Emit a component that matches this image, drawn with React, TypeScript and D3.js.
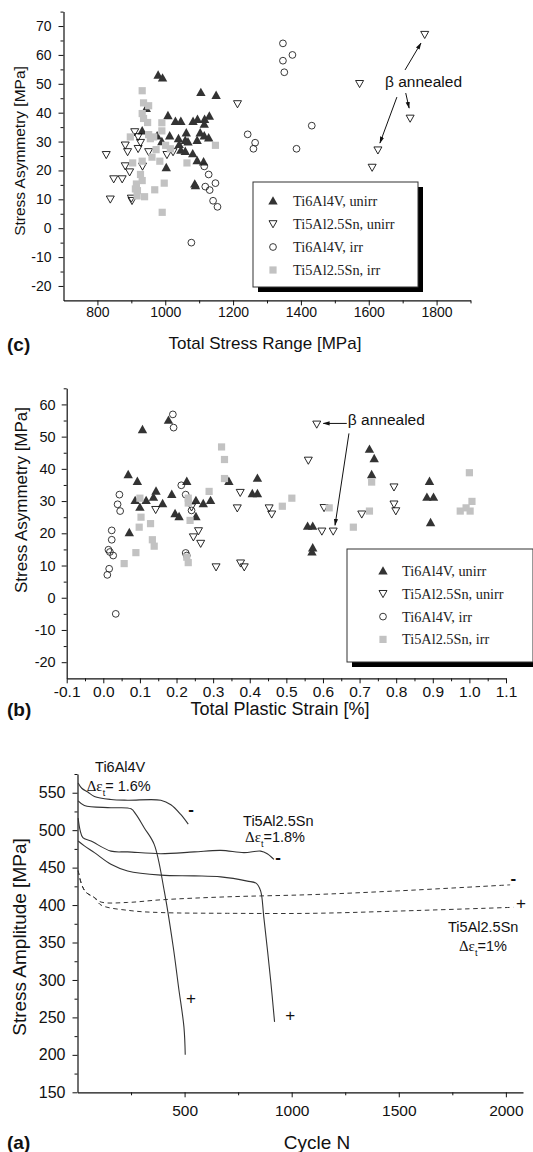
import React, { useEffect, useRef } from "react";
import * as d3 from "d3";

type Pt = [number, number];

const SANS = "'Liberation Sans', Arial, Helvetica, sans-serif";
const SERIF = "'Liberation Serif', 'Times New Roman', serif";
const INK = "#111";

// ---------- (c) total stress range [MPa] vs stress asymmetry [MPa]
const rangeTi64Unirr: Pt[] = [
  [979, 53], [992, 52], [1105, 47], [1150, 46], [944, 41.5], [1008, 39], [1030, 37], [1046, 37],
  [1082, 37], [1095, 37.7], [1116, 37.7], [1130, 38.8], [1115, 36], [932, 33.7], [976, 32], [1013, 32],
  [1062, 33], [1103, 33], [1115, 32], [1128, 31.3], [1039, 31], [1059, 30.4], [990, 30], [1041, 29],
  [1067, 29.9], [1094, 30.4], [1046, 27], [1059, 26.6], [1081, 25.8], [1094, 23.4], [1113, 23],
  [1003, 21], [1087, 15.3], [1089, 14.7],
];
const rangeTi5Unirr: Pt[] = [
  [826, 25.4], [838, 10], [848, 17], [873, 17], [882, 21.5], [895, 19.4], [882, 28.7], [889, 26.4],
  [920, 27.5], [910, 33.3], [920, 31.6], [927, 29.6], [900, 10.3], [902, 9.5], [933, 21.4], [951, 26.4],
  [1005, 25.4], [1023, 26.4], [1213, 43], [1573, 50], [1765, 67], [1722, 38], [1627, 27], [1610, 21],
];
const rangeTi64Irr: Pt[] = [
  [1347, 64], [1375, 60], [1347, 58], [1351, 54], [1432, 35.5], [1387, 27.5], [1243, 32.5],
  [1265, 29.6], [1260, 27.5], [1115, 21.4], [1128, 18.6], [1148, 15.6], [1118, 14.4], [1131, 13.2],
  [1141, 9.5], [1154, 7.4], [1077, -5],
];
const rangeTi5Irr: Pt[] = [
  [932, 47.6], [936, 43.4], [951, 42.4], [932, 39.7], [936, 38], [948, 36.6], [990, 36.5], [990, 33.7],
  [897, 31.6], [951, 32.4], [956, 31], [966, 31.6], [1001, 28.7], [1015, 27.5], [973, 27.2],
  [1148, 28.7], [961, 24.6], [984, 23.2], [932, 23.2], [904, 22.6], [1064, 22.6], [927, 18.6],
  [932, 16.5], [915, 15.3], [918, 13], [912, 13.6], [917, 11.2], [939, 10.9], [969, 13.3], [997, 15.6],
  [991, 5.5],
];

// ---------- (b) total plastic strain [%] vs stress asymmetry [MPa]
const strainTi64Unirr: Pt[] = [
  [0.107, 52.2], [0.178, 55.1], [0.068, 38.2], [0.093, 36.1], [0.228, 36.1], [0.144, 33.1],
  [0.187, 32.1], [0.087, 30.2], [0.117, 30.2], [0.137, 31.2], [0.1, 28.1], [0.162, 29.2],
  [0.196, 26.1], [0.207, 25.2], [0.253, 30.2], [0.273, 29.2], [0.293, 30.2], [0.253, 25.2],
  [0.343, 36.1], [0.421, 37.1], [0.407, 32.3], [0.421, 32.3], [0.071, 20.2], [0.558, 22.2],
  [0.572, 22.2], [0.572, 15.5], [0.57, 14.2], [0.727, 46.1], [0.74, 43.2], [0.733, 38.2],
  [0.891, 36.1], [0.884, 31.2], [0.902, 31.2], [0.894, 23.3],
];
const strainTi5Unirr: Pt[] = [
  [0.143, 27.3], [0.241, 28.1], [0.26, 20.7], [0.246, 18.8], [0.266, 16.8], [0.374, 32.6],
  [0.366, 27.8], [0.453, 27.8], [0.46, 25.9], [0.308, 9.5], [0.375, 10.7], [0.385, 9.5],
  [0.56, 42.6], [0.583, 53.8], [0.597, 20.6], [0.628, 20.6], [0.603, 27.9], [0.706, 25.9],
  [0.794, 34.3], [0.794, 29], [0.799, 26.9],
];
const strainTi64Irr: Pt[] = [
  [0.19, 56.9], [0.192, 52.8], [0.213, 34.9], [0.225, 32], [0.241, 27.1], [0.044, 32], [0.039, 29],
  [0.046, 26.9], [0.023, 20.9], [0.023, 18], [0.014, 14.9], [0.018, 14.2], [0.027, 13.1],
  [0.016, 9], [0.011, 7.1], [0.034, -5], [0.225, 13.9], [0.228, 13.1],
];
const strainTi5Irr: Pt[] = [
  [0.1, 30.9], [0.103, 25], [0.098, 21.9], [0.129, 23], [0.134, 18], [0.139, 16], [0.089, 14],
  [0.057, 10.6], [0.232, 30.9], [0.232, 29.4], [0.237, 24], [0.228, 12.6], [0.232, 10.9],
  [0.289, 33], [0.323, 46.8], [0.331, 42.9], [0.331, 37], [0.489, 28.4], [0.515, 30.9],
  [0.617, 27.9], [0.683, 21.9], [0.727, 26.9], [0.733, 35.9], [1.0, 38.8], [0.975, 26.9],
  [0.991, 27.9], [1.002, 26.9], [1.007, 29.9],
];

// ---------- (a) cycle N vs stress amplitude [MPa]
const cycTi64Top: Pt[] = [
  [3, 563], [20, 556], [48, 551], [79, 545], [156, 541], [234, 540], [389, 540], [436, 534], [482, 521], [517, 508],
];
const cycTi64Bottom: Pt[] = [
  [3, 539], [32, 533], [156, 530], [250, 528.5], [273, 521], [312, 503], [358, 481], [405, 419],
  [447, 344], [472, 290], [497, 237], [503, 200],
];
const cycTi5Top: Pt[] = [
  [3, 516], [12, 500], [25, 490], [63, 485.5], [156, 472], [234, 471], [389, 468.6], [545, 471],
  [669, 473], [777, 470], [855, 472], [886, 468.6], [917, 461],
];
const cycTi5Bottom: Pt[] = [
  [3, 485.5], [32, 479], [79, 470], [156, 454.5], [234, 445.6], [389, 440], [545, 439], [669, 437.6],
  [793, 432], [835, 429], [855, 419], [870, 383.5], [902, 299], [920, 244],
];
const cycTi5LowMinus: Pt[] = [
  [3, 446], [20, 427], [40, 417], [79, 410], [110, 404], [234, 403.5], [389, 407], [700, 411],
  [1100, 414], [1500, 419], [2020, 427],
];
const cycTi5LowPlus: Pt[] = [
  [3, 446], [20, 427], [40, 417], [79, 410], [110, 400], [250, 392.5], [389, 390], [700, 389],
  [1100, 389], [1500, 392], [2035, 397],
];

const legendLabels = ["Ti6Al4V, unirr", "Ti5Al2.5Sn, unirr", "Ti6Al4V, irr", "Ti5Al2.5Sn, irr"];
const rangeTicks = [800, 1000, 1200, 1400, 1600, 1800];
const asymTicksC = [-20, -10, 0, 10, 20, 30, 40, 50, 60, 70];
const strainTicks = [-0.1, 0, 0.1, 0.2, 0.3, 0.4, 0.5, 0.6, 0.7, 0.8, 0.9, 1.0, 1.1];
const asymTicksB = [-20, -10, 0, 10, 20, 30, 40, 50, 60];
const cycleTicks = [500, 1000, 1500, 2000];
const ampTicks = [150, 200, 250, 300, 350, 400, 450, 500, 550];

const MARKS: Record<string, { d: string; fill: string; stroke: string; sw: number }> = {
  up: { d: "M0,-4.8L4.7,3.6L-4.7,3.6Z", fill: "#333", stroke: "none", sw: 0 },
  down: { d: "M-4,-3.3L4,-3.3L0,3.8Z", fill: "none", stroke: "#111", sw: 0.9 },
  circle: { d: d3.symbol(d3.symbolCircle, 36)() as string, fill: "none", stroke: "#222", sw: 0.9 },
  square: { d: "M-3.6,-3.6h7.2v7.2h-7.2Z", fill: "#c2c2c2", stroke: "none", sw: 0 },
};
const markKinds = ["up", "down", "circle", "square"];

function drawAxes(g: any, x: any, y: any, o: any) {
  const bottom = y.range()[0];
  const left = x.range()[0];
  const style = (s: any, fs: number) => {
    s.attr("font-family", SANS).attr("font-size", fs);
    s.selectAll("line").attr("stroke", INK).attr("stroke-width", 1);
    s.selectAll("text").attr("fill", INK);
    s.select(".domain").attr("stroke", INK).attr("stroke-width", 1.2);
  };
  const xm = g.append("g").attr("transform", `translate(0,${bottom})`)
    .call(d3.axisBottom(x).tickValues(o.xMinor).tickSize(3).tickFormat(() => ""));
  xm.select(".domain").remove();
  style(xm, o.tickFs);
  const xa = g.append("g").attr("transform", `translate(0,${bottom})`)
    .call(d3.axisBottom(x).tickValues(o.xTicks).tickSize(5).tickSizeOuter(0).tickPadding(o.xPad).tickFormat(o.xFmt));
  style(xa, o.xTickFs || o.tickFs);

  const ym = g.append("g").attr("transform", `translate(${left},0)`)
    .call(d3.axisLeft(y).tickValues(o.yMinor).tickSize(3).tickFormat(() => ""));
  ym.select(".domain").remove();
  style(ym, o.tickFs);
  const ya = g.append("g").attr("transform", `translate(${left},0)`)
    .call(d3.axisLeft(y).tickValues(o.yTicks).tickSize(5).tickSizeOuter(0).tickPadding(o.yPad).tickFormat((d: any) => String(d)));
  style(ya, o.yTickFs || o.tickFs);

  // titles + panel letter
  g.append("text").attr("x", o.xTitle[0]).attr("y", o.xTitle[1]).attr("dy", "0.35em")
    .attr("text-anchor", "middle").attr("font-family", SANS).attr("font-size", o.xTitleFs).attr("fill", INK).text(o.xLabel);
  g.append("text").attr("transform", `translate(${o.yTitle[0]},${o.yTitle[1]}) rotate(-90)`).attr("dy", "0.35em")
    .attr("text-anchor", "middle").attr("font-family", SANS).attr("font-size", o.yTitleFs).attr("fill", INK).text(o.yLabel);
  g.append("text").attr("x", 7).attr("y", o.letterY).attr("dy", "0.35em").attr("font-family", SANS)
    .attr("font-weight", "bold").attr("font-size", 19).attr("fill", INK).text(o.letter);
}

function arrow(g: any, x: any, y: any, from: Pt, to: Pt) {
  g.append("line").attr("x1", x(from[0])).attr("y1", y(from[1])).attr("x2", x(to[0])).attr("y2", y(to[1]))
    .attr("stroke", INK).attr("stroke-width", 1).attr("marker-end", "url(#arrowHead)");
}

function scatterPanel(svg: any, p: any) {
  const x = d3.scaleLinear().domain(p.xDomain).range(p.xRange);
  const y = d3.scaleLinear().domain(p.yDomain).range(p.yRange);
  const g = svg.append("g");
  drawAxes(g, x, y, p);

  p.series.forEach((data: Pt[], i: number) => {
    const m = MARKS[markKinds[i]];
    g.append("g").selectAll("path").data(data).join("path")
      .attr("transform", (d: Pt) => `translate(${x(d[0])},${y(d[1])})`)
      .attr("d", m.d).attr("fill", m.fill).attr("stroke", m.stroke).attr("stroke-width", m.sw);
  });

  // legend box with drop shadow
  const L = p.legend;
  const lg = g.append("g");
  lg.append("rect").attr("x", L.x + 5).attr("y", L.y + 5).attr("width", L.w).attr("height", L.h).attr("fill", "#000");
  lg.append("rect").attr("x", L.x).attr("y", L.y).attr("width", L.w).attr("height", L.h)
    .attr("fill", "#fff").attr("stroke", "#333").attr("stroke-width", 1);
  legendLabels.forEach((t, i) => {
    const ry = L.y + L.row0 + i * L.step;
    const m = MARKS[markKinds[i]];
    lg.append("path").attr("transform", `translate(${L.x + L.sx},${ry})`)
      .attr("d", m.d).attr("fill", m.fill).attr("stroke", m.stroke).attr("stroke-width", m.sw);
    lg.append("text").attr("x", L.x + L.tx).attr("y", ry).attr("dy", "0.35em")
      .attr("font-family", SERIF).attr("font-size", 14.3).attr("fill", "#222").text(t);
  });

  // β annealed note
  g.append("text").attr("x", x(p.note[0])).attr("y", y(p.note[1])).attr("dy", "0.35em")
    .attr("font-family", SANS).attr("font-size", 15.5).attr("fill", INK).text("β annealed");
  p.arrows.forEach((a: Pt[]) => arrow(g, x, y, a[0], a[1]));
}

function cyclePanel(svg: any) {
  const x = d3.scaleLinear().domain([0, 2080]).range([77.5, 523]);
  const y = d3.scaleLinear().domain([150, 575]).range([1092.3, 774]);
  const g = svg.append("g");
  drawAxes(g, x, y, {
    xTicks: cycleTicks, xMinor: [250, 750, 1250, 1750], xPad: 8, xFmt: (d: any) => String(d),
    yTicks: ampTicks, yMinor: d3.range(175, 576, 50), yPad: 7, tickFs: 15.5, yTickFs: 16,
    xTitle: [317, 1142], yTitle: [19, 937], xTitleFs: 19, yTitleFs: 19,
    xLabel: "Cycle N", yLabel: "Stress Amplitude [MPa]", letter: "(a)", letterY: 1142,
  });

  const line = d3.line<Pt>().x((d) => x(d[0])).y((d) => y(d[1])).curve(d3.curveCatmullRom.alpha(0.5));
  [cycTi64Top, cycTi64Bottom, cycTi5Top, cycTi5Bottom].forEach((c) =>
    g.append("path").attr("d", line(c)).attr("fill", "none").attr("stroke", "#333").attr("stroke-width", 1.1));
  [cycTi5LowMinus, cycTi5LowPlus].forEach((c) =>
    g.append("path").attr("d", line(c)).attr("fill", "none").attr("stroke", "#333")
      .attr("stroke-width", 1).attr("stroke-dasharray", "4.5,3.5"));

  // +/- end markers
  const signs: [number, number, string][] = [
    [530, 527.7, "-"], [936, 463.5, "-"], [2035, 436.7, "-"],
    [530, 276.5, "+"], [993, 253.4, "+"], [2070, 403, "+"],
  ];
  signs.forEach(([n, v, s]) =>
    g.append("text").attr("x", x(n)).attr("y", y(v)).attr("dy", "0.35em").attr("text-anchor", "middle")
      .attr("font-family", SANS).attr("font-size", 17).attr("font-weight", s === "-" ? "bold" : "normal")
      .attr("fill", INK).text(s));

  // curve labels
  const names: [number, number, string][] = [[82, 577.7, "Ti6Al4V"], [773, 505.6, "Ti5Al2.5Sn"], [1730, 364, "Ti5Al2.5Sn"]];
  names.forEach(([n, v, s]) =>
    g.append("text").attr("x", x(n)).attr("y", y(v)).attr("font-family", SANS).attr("font-size", 14.5)
      .attr("fill", INK).text(s));
  const strains: [number, number, string][] = [[43, 552.3, "= 1.6%"], [782, 484.2, "=1.8%"], [1781, 338.7, "=1%"]];
  strains.forEach(([n, v, s]) => {
    const t = g.append("text").attr("x", x(n)).attr("y", y(v)).attr("font-family", SANS)
      .attr("font-size", 14.5).attr("fill", INK);
    t.append("tspan").attr("font-family", SERIF).attr("font-size", 15).text("Δε");
    t.append("tspan").attr("font-size", 9).attr("dy", 5).text("t");
    t.append("tspan").attr("dy", -5).text(s);
  });
}

export default function App() {
  const ref = useRef<SVGSVGElement>(null);

  useEffect(() => {
    const svg = d3.select(ref.current);
    svg.selectAll("*").remove();
    svg.append("defs").append("marker").attr("id", "arrowHead").attr("viewBox", "0 0 10 10")
      .attr("refX", 9).attr("refY", 5).attr("markerWidth", 7).attr("markerHeight", 7).attr("orient", "auto")
      .append("path").attr("d", "M0,2L10,5L0,8Z").attr("fill", INK);

    scatterPanel(svg, {
      xDomain: [700, 1900], xRange: [63.5, 470.5], yDomain: [-25, 75], yRange: [300.4, 11.6],
      xTicks: rangeTicks, xMinor: d3.range(900, 1901, 200), xPad: 2, xFmt: (d: any) => String(d),
      yTicks: asymTicksC, yMinor: d3.range(-15, 76, 10), yPad: 7, tickFs: 14,
      xTitle: [265, 343], yTitle: [20, 151], xTitleFs: 17, yTitleFs: 15.5,
      xLabel: "Total Stress Range [MPa]", yLabel: "Stress Asymmetry [MPa]", letter: "(c)", letterY: 344,
      series: [rangeTi64Unirr, rangeTi5Unirr, rangeTi64Irr, rangeTi5Irr],
      legend: { x: 253, y: 182, w: 165, h: 105, row0: 19, step: 23, sx: 20, tx: 40 },
      note: [1648, 50.6],
      arrows: [[[1707, 54.8], [1754, 64.1]], [[1709, 46.8], [1719, 41.6]], [[1683, 45.4], [1633, 29.5]]],
    });

    scatterPanel(svg, {
      xDomain: [-0.1, 1.1], xRange: [66.7, 506], yDomain: [-25, 65], yRange: [678.3, 388.3],
      xTicks: strainTicks, xMinor: d3.range(-0.05, 1.1, 0.1), xPad: 3, xFmt: (d: any) => (+d).toFixed(1),
      yTicks: asymTicksB, yMinor: d3.range(-15, 66, 10), yPad: 6, tickFs: 15.5, yTickFs: 14.5,
      xTitle: [280, 709], yTitle: [21, 500], xTitleFs: 18, yTitleFs: 17,
      xLabel: "Total Plastic Strain [%]", yLabel: "Stress Asymmetry [MPa]", letter: "(b)", letterY: 709,
      series: [strainTi64Unirr, strainTi5Unirr, strainTi64Irr, strainTi5Irr],
      legend: { x: 347, y: 549, w: 186, h: 113, row0: 22, step: 22.8, sx: 36, tx: 55 },
      note: [0.668, 55.4],
      arrows: [[[0.665, 54.1], [0.601, 54.1]], [[0.671, 51.0], [0.633, 22.5]]],
    });

    cyclePanel(svg);
  }, []);

  return (
    <svg ref={ref} width={533} height={1152}
      style={{ position: "absolute", left: 0, top: 0, background: "#fff", display: "block" }} />
  );
}
